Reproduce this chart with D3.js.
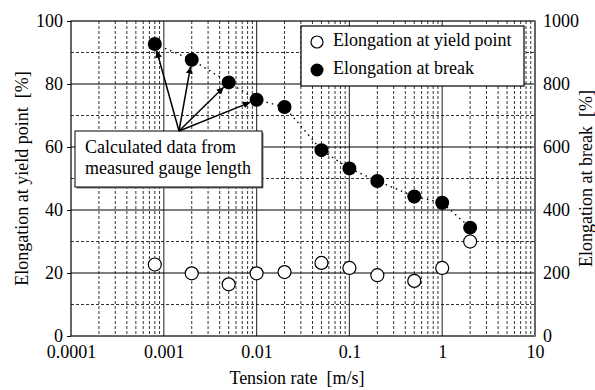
<!DOCTYPE html>
<html>
<head>
<meta charset="utf-8">
<script src="https://cdn.jsdelivr.net/npm/d3@7"></script>
<style>
  body { margin: 0; background: #fff; }
</style>
</head>
<body>
<div id="chart"></div>
<script>
// data
var rates = [0.0008, 0.002, 0.005, 0.01, 0.02, 0.05, 0.1, 0.2, 0.5, 1, 2];
var yieldElong = [22.7, 19.9, 16.4, 19.9, 20.3, 23.2, 21.6, 19.3, 17.5, 21.6, 30.0];
var breakElong = [927, 877, 805, 750, 727, 590, 532, 492, 443, 423, 344];
var arrowTargets = [0, 1, 2, 3]; // indexes of points with calculated data
var xTicks = [0.0001, 0.001, 0.01, 0.1, 1, 10];
var yTicksLeft = [0, 20, 40, 60, 80, 100];
var yTicksRight = [0, 200, 400, 600, 800, 1000];

var width = 595, height = 390;
var margin = { top: 21, right: 60, bottom: 54, left: 71 };
var innerW = width - margin.left - margin.right;
var innerH = height - margin.top - margin.bottom;

var svg = d3.select("#chart").append("svg")
    .attr("width", width)
    .attr("height", height);

var defs = svg.append("defs");
defs.append("marker")
    .attr("id", "arrow")
    .attr("viewBox", "0 0 10 10")
    .attr("refX", 10).attr("refY", 5)
    .attr("markerWidth", 7).attr("markerHeight", 7)
    .attr("markerUnits", "userSpaceOnUse")
    .attr("orient", "auto")
    .append("path")
    .attr("d", "M0,0 L10,5 L0,10 Z")
    .attr("fill", "#000");

var g = svg.append("g")
    .attr("transform", "translate(" + margin.left + "," + margin.top + ")");

var x = d3.scaleLog().domain([0.0001, 10]).range([0, innerW]);
var yL = d3.scaleLinear().domain([0, 100]).range([innerH, 0]);
var yR = d3.scaleLinear().domain([0, 1000]).range([innerH, 0]);

// minor vertical grid (dashed)
var minorX = [];
for (var e = -4; e < 1; e++) {
    for (var m = 2; m <= 9; m++) minorX.push(m * Math.pow(10, e));
}
g.selectAll(".vminor").data(minorX).enter().append("line")
    .attr("x1", d => x(d)).attr("x2", d => x(d))
    .attr("y1", 0).attr("y2", innerH)
    .attr("stroke", "#000").attr("stroke-width", 0.8)
    .attr("stroke-dasharray", "3,2");

// major vertical grid
g.selectAll(".vmajor").data(xTicks.slice(1, -1)).enter().append("line")
    .attr("x1", d => x(d)).attr("x2", d => x(d))
    .attr("y1", 0).attr("y2", innerH)
    .attr("stroke", "#444").attr("stroke-width", 1.2);

// horizontal grid
var minorY = [10, 30, 50, 70, 90];
g.selectAll(".hminor").data(minorY).enter().append("line")
    .attr("x1", 0).attr("x2", innerW)
    .attr("y1", d => yL(d)).attr("y2", d => yL(d))
    .attr("stroke", "#000").attr("stroke-width", 0.8)
    .attr("stroke-dasharray", "3,2");
g.selectAll(".hmajor").data(yTicksLeft.slice(1, -1)).enter().append("line")
    .attr("x1", 0).attr("x2", innerW)
    .attr("y1", d => yL(d)).attr("y2", d => yL(d))
    .attr("stroke", "#000").attr("stroke-width", 1.1);

// frame
g.append("rect")
    .attr("width", innerW).attr("height", innerH)
    .attr("fill", "none").attr("stroke", "#000").attr("stroke-width", 1.2);
g.append("line")
    .attr("x1", innerW).attr("x2", innerW).attr("y1", 0).attr("y2", innerH)
    .attr("stroke", "#666").attr("stroke-width", 2);

// axes
var xAxis = g.append("g")
    .attr("transform", "translate(0," + innerH + ")")
    .call(d3.axisBottom(x).tickValues(xTicks).tickFormat(d => String(d)).tickSize(0));
var yAxisL = g.append("g")
    .call(d3.axisLeft(yL).tickValues(yTicksLeft).tickSize(4).tickPadding(4));
var yAxisR = g.append("g")
    .attr("transform", "translate(" + innerW + ",0)")
    .call(d3.axisRight(yR).tickValues(yTicksRight).tickFormat(d3.format("d")).tickSize(0).tickPadding(8));
[xAxis, yAxisL, yAxisR].forEach(function(a) {
    a.select(".domain").remove();
    a.selectAll("text").attr("fill", "#000");
    a.selectAll("line").attr("stroke", "#000");
});
xAxis.selectAll("text").attr("y", 22).attr("dy", 0);

// axis titles
svg.append("text")
    .attr("x", 297)
    .attr("y", 384)
    .attr("text-anchor", "middle")
    .text("Tension rate  [m/s]");
svg.append("text")
    .attr("transform", "translate(28," + (margin.top + innerH / 2) + ") rotate(-90)")
    .attr("text-anchor", "middle")
    .text("Elongation at yield point  [%]");
svg.append("text")
    .attr("transform", "translate(592," + (margin.top + innerH / 2) + ") rotate(-90)")
    .attr("text-anchor", "middle")
    .text("Elongation at break  [%]");

// dotted line through break points
g.append("path")
    .datum(rates)
    .attr("d", d3.line().x(d => x(d)).y((d, i) => yR(breakElong[i])))
    .attr("fill", "none")
    .attr("stroke", "#000")
    .attr("stroke-width", 1.4)
    .attr("stroke-dasharray", "1.5,4");

// annotation box + arrows
var boxX = 4, boxY = 110, boxW = 187, boxH = 56;
g.append("rect")
    .attr("x", boxX + 1.5).attr("y", boxY + 1.5).attr("width", boxW).attr("height", boxH)
    .attr("fill", "#777");
g.append("rect")
    .attr("x", boxX).attr("y", boxY).attr("width", boxW).attr("height", boxH)
    .attr("fill", "#fff").attr("stroke", "#000").attr("stroke-width", 1);
g.append("text").attr("x", boxX + 10).attr("y", boxY + 22).text("Calculated data from");
g.append("text").attr("x", boxX + 10).attr("y", boxY + 43).text("measured gauge length");

var ax0 = 108, ay0 = boxY;
g.selectAll(".arrow").data(arrowTargets).enter().append("line")
    .attr("x1", ax0).attr("y1", ay0)
    .attr("x2", function(i) {
        var tx = x(rates[i]), ty = yR(breakElong[i]);
        var dx = tx - ax0, dy = ty - ay0, L = Math.sqrt(dx * dx + dy * dy);
        return tx - dx / L * 7;
    })
    .attr("y2", function(i) {
        var tx = x(rates[i]), ty = yR(breakElong[i]);
        var dx = tx - ax0, dy = ty - ay0, L = Math.sqrt(dx * dx + dy * dy);
        return ty - dy / L * 7;
    })
    .attr("stroke", "#000").attr("stroke-width", 1.5)
    .attr("marker-end", "url(#arrow)");

// points
g.selectAll(".yieldPt").data(rates).enter().append("circle")
    .attr("cx", d => x(d)).attr("cy", (d, i) => yL(yieldElong[i]))
    .attr("r", 6.5)
    .attr("fill", "#fff").attr("stroke", "#000").attr("stroke-width", 1.2);
g.selectAll(".breakPt").data(rates).enter().append("circle")
    .attr("cx", d => x(d)).attr("cy", (d, i) => yR(breakElong[i]))
    .attr("r", 7)
    .attr("fill", "#000");

// legend
var lg = g.append("g").attr("transform", "translate(230,5)");
lg.append("rect").attr("width", 223).attr("height", 60)
    .attr("fill", "#fff").attr("stroke", "#000").attr("stroke-width", 1.2);
lg.append("circle").attr("cx", 16).attr("cy", 16).attr("r", 6)
    .attr("fill", "#fff").attr("stroke", "#000").attr("stroke-width", 1.2);
lg.append("circle").attr("cx", 16).attr("cy", 44).attr("r", 6.5).attr("fill", "#000");
lg.append("text").attr("x", 32).attr("y", 20).text("Elongation at yield point");
lg.append("text").attr("x", 32).attr("y", 48).text("Elongation at break");

// one font for all texts: 16px serif scaled up to look like 18px
// (bigger sizes switch to a sans face in this browser)
var k = 1.125;
svg.selectAll("text")
    .style("font-family", "'Liberation Serif'")
    .style("font-size", "16px")
    .style("white-space", "pre")
    .each(function() {
        var t = d3.select(this);
        var tx = +t.attr("x") || 0, ty = +t.attr("y") || 0;
        var tr = t.attr("transform") || "";
        t.attr("transform", tr + " translate(" + tx + "," + ty + ") scale(" + k + ") translate(" + (-tx) + "," + (-ty) + ")");
    });
</script>
</body>
</html>
